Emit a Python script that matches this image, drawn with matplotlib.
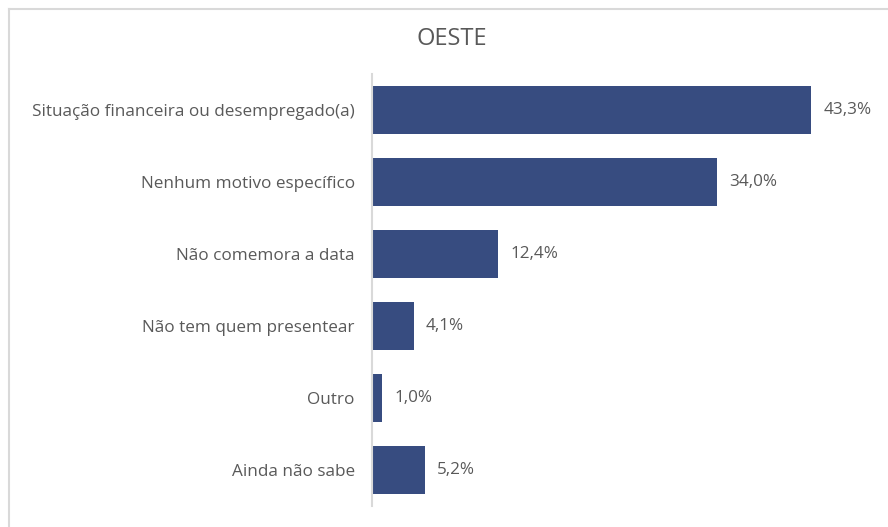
import matplotlib
matplotlib.use("Agg")
import matplotlib.pyplot as plt
from matplotlib.lines import Line2D

categories = ["Situação financeira ou desempregado(a)", "Nenhum motivo específico",
              "Não comemora a data", "Não tem quem presentear", "Outro", "Ainda não sabe"]
values = [43.3, 34.0, 12.4, 4.1, 1.0, 5.2]
labels = ["43,3%", "34,0%", "12,4%", "4,1%", "1,0%", "5,2%"]
title = "OESTE"

W, H = 888, 527
fig = plt.figure(figsize=(W / 100, H / 100), dpi=100)
plt.rcParams['font.family'] = ['Open Sans', 'DejaVu Sans']

# outer border (left and top only visible)
fig.lines.append(Line2D([8.5 / W, 8.5 / W], [0, 1 - 9 / H], transform=fig.transFigure,
                        color="#D9D9D9", linewidth=1.5))
fig.lines.append(Line2D([8.5 / W, 1], [1 - 9 / H, 1 - 9 / H], transform=fig.transFigure,
                        color="#D9D9D9", linewidth=1.5))

ax = fig.add_axes([372 / W, (H - 506) / H, (870 - 372) / W, (506 - 74) / H])
y = list(range(len(categories)))
ax.barh(y, values, height=0.66, color="#374C80")
ax.set_xlim(0, 498 / (439 / 43.3))
ax.set_ylim(len(categories) - 0.5, -0.5)
ax.set_yticks(y)
ax.set_yticklabels(categories, fontsize=12.3, color="#595959")
ax.tick_params(axis="y", length=0, pad=12.5)
ax.set_xticks([])
for s in ["top", "right", "bottom"]:
    ax.spines[s].set_visible(False)
ax.spines["left"].set_color("#D9D9D9")
ax.spines["left"].set_linewidth(1.5)
for yi, v, lab in zip(y, values, labels):
    ax.annotate(lab, (v, yi), xytext=(9, 0), textcoords="offset points",
                va="center", ha="left", fontsize=12.3, color="#595959")

fig.text(452 / W, 1 - 39 / H, title, ha="center", va="center", fontsize=17, color="#595959")

fig.savefig("out.png", dpi=100)
